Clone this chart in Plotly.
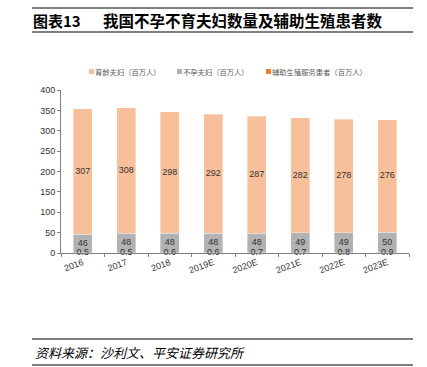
import plotly.graph_objects as go

years = ["2016", "2017", "2018", "2019E", "2020E", "2021E", "2022E", "2023E"]
fertile = [307, 308, 298, 292, 287, 282, 278, 276]
infertile = [46, 48, 48, 48, 48, 49, 49, 50]
art_patients = [0.5, 0.5, 0.6, 0.6, 0.7, 0.7, 0.8, 0.9]

names = ["育龄夫妇（百万人）", "不孕夫妇（百万人）", "辅助生殖服务患者（百万人）"]
colors = ["#F8C09A", "#B2B2B2", "#ED7D31"]

num_font = dict(family="Liberation Sans, Arial", size=9, color="#333333")
cjk = "Noto Sans CJK SC"

fig = go.Figure()
edge = dict(color="rgba(255,255,255,0.7)", width=0.5)
fig.add_trace(go.Bar(x=years, y=art_patients, name=names[2], marker_color=colors[2],
                     width=0.44, showlegend=False))
fig.add_trace(go.Bar(x=years, y=infertile, name=names[1], marker_color=colors[1],
                     width=0.44, marker_line=edge, showlegend=False))
fig.add_trace(go.Bar(x=years, y=fertile, name=names[0], marker_color=colors[0],
                     width=0.44, marker_line=edge, showlegend=False))

# data labels at segment centres
mid_p = [p / 2 for p in art_patients]
mid_i = [p + i / 2 for p, i in zip(art_patients, infertile)]
mid_f = [p + i + f / 2 for p, i, f in zip(art_patients, infertile, fertile)]
for ys, vals in [(mid_p, art_patients), (mid_i, infertile), (mid_f, fertile)]:
    fig.add_trace(go.Scatter(x=years, y=ys, mode="text", text=[str(v) for v in vals],
                             textposition="middle center", textfont=num_font,
                             showlegend=False, hoverinfo="skip", cliponaxis=False))

fig.update_layout(
    barmode="stack",
    width=427, height=367,
    margin=dict(l=61, r=18, t=90, b=114),
    paper_bgcolor="white", plot_bgcolor="white",
    showlegend=False,
)
fig.update_xaxes(type="category", showline=True, linecolor="#7F7F7F", linewidth=1,
                 ticks="outside", ticklen=3, tickcolor="#7F7F7F", tickson="boundaries",
                 tickangle=-20, tickfont=num_font, showgrid=False, automargin=False)
fig.update_yaxes(range=[0, 400], dtick=50, showline=True, linecolor="#7F7F7F", linewidth=1,
                 ticks="outside", ticklen=3, tickcolor="#7F7F7F", tickfont=num_font,
                 showgrid=False, zeroline=False, automargin=False)

W, L, T, H = 348.0, 61.0, 90.0, 163.0
def px(x):
    return (x - L) / W
def py(y):
    return (T + H - y) / H

# custom legend
leg_x = [89, 177, 266]
for name, col, x0 in zip(names, colors, leg_x):
    fig.add_shape(type="rect", xref="paper", yref="paper", x0=px(x0), x1=px(x0 + 5),
                  y0=py(74), y1=py(69), fillcolor=col, line_width=0)
    fig.add_annotation(xref="paper", yref="paper", x=px(x0 + 5), y=py(71.5),
                       xanchor="left", yanchor="middle", showarrow=False, text=name,
                       font=dict(family=cjk, size=7.3, color="#595959"), xshift=-1)

# title & source block
line = dict(color="#000000", width=1)
for yv in [8, 32, 339, 365]:
    fig.add_shape(type="line", xref="paper", yref="paper", x0=px(32), x1=px(413),
                  y0=py(yv), y1=py(yv), line=line)
fig.add_annotation(xref="paper", yref="paper", x=px(31), y=py(20), xanchor="left",
                   yanchor="middle", showarrow=False, text="<b>图表13</b>",
                   font=dict(family=cjk, size=15, color="#000000"))
fig.add_annotation(xref="paper", yref="paper", x=px(101), y=py(20), xanchor="left",
                   yanchor="middle", showarrow=False,
                   text="<b>我国不孕不育夫妇数量及辅助生殖患者数</b>",
                   font=dict(family=cjk, size=15.5, color="#000000"))
fig.add_annotation(xref="paper", yref="paper", x=px(33), y=py(352), xanchor="left",
                   yanchor="middle", showarrow=False,
                   text="<i>资料来源：沙利文、平安证券研究所</i>",
                   font=dict(family=cjk, size=13, color="#000000"))

fig.write_html("out.html", config={"displayModeBar": False},
               post_script="document.body.style.margin='0px';document.body.style.overflow='hidden';")
